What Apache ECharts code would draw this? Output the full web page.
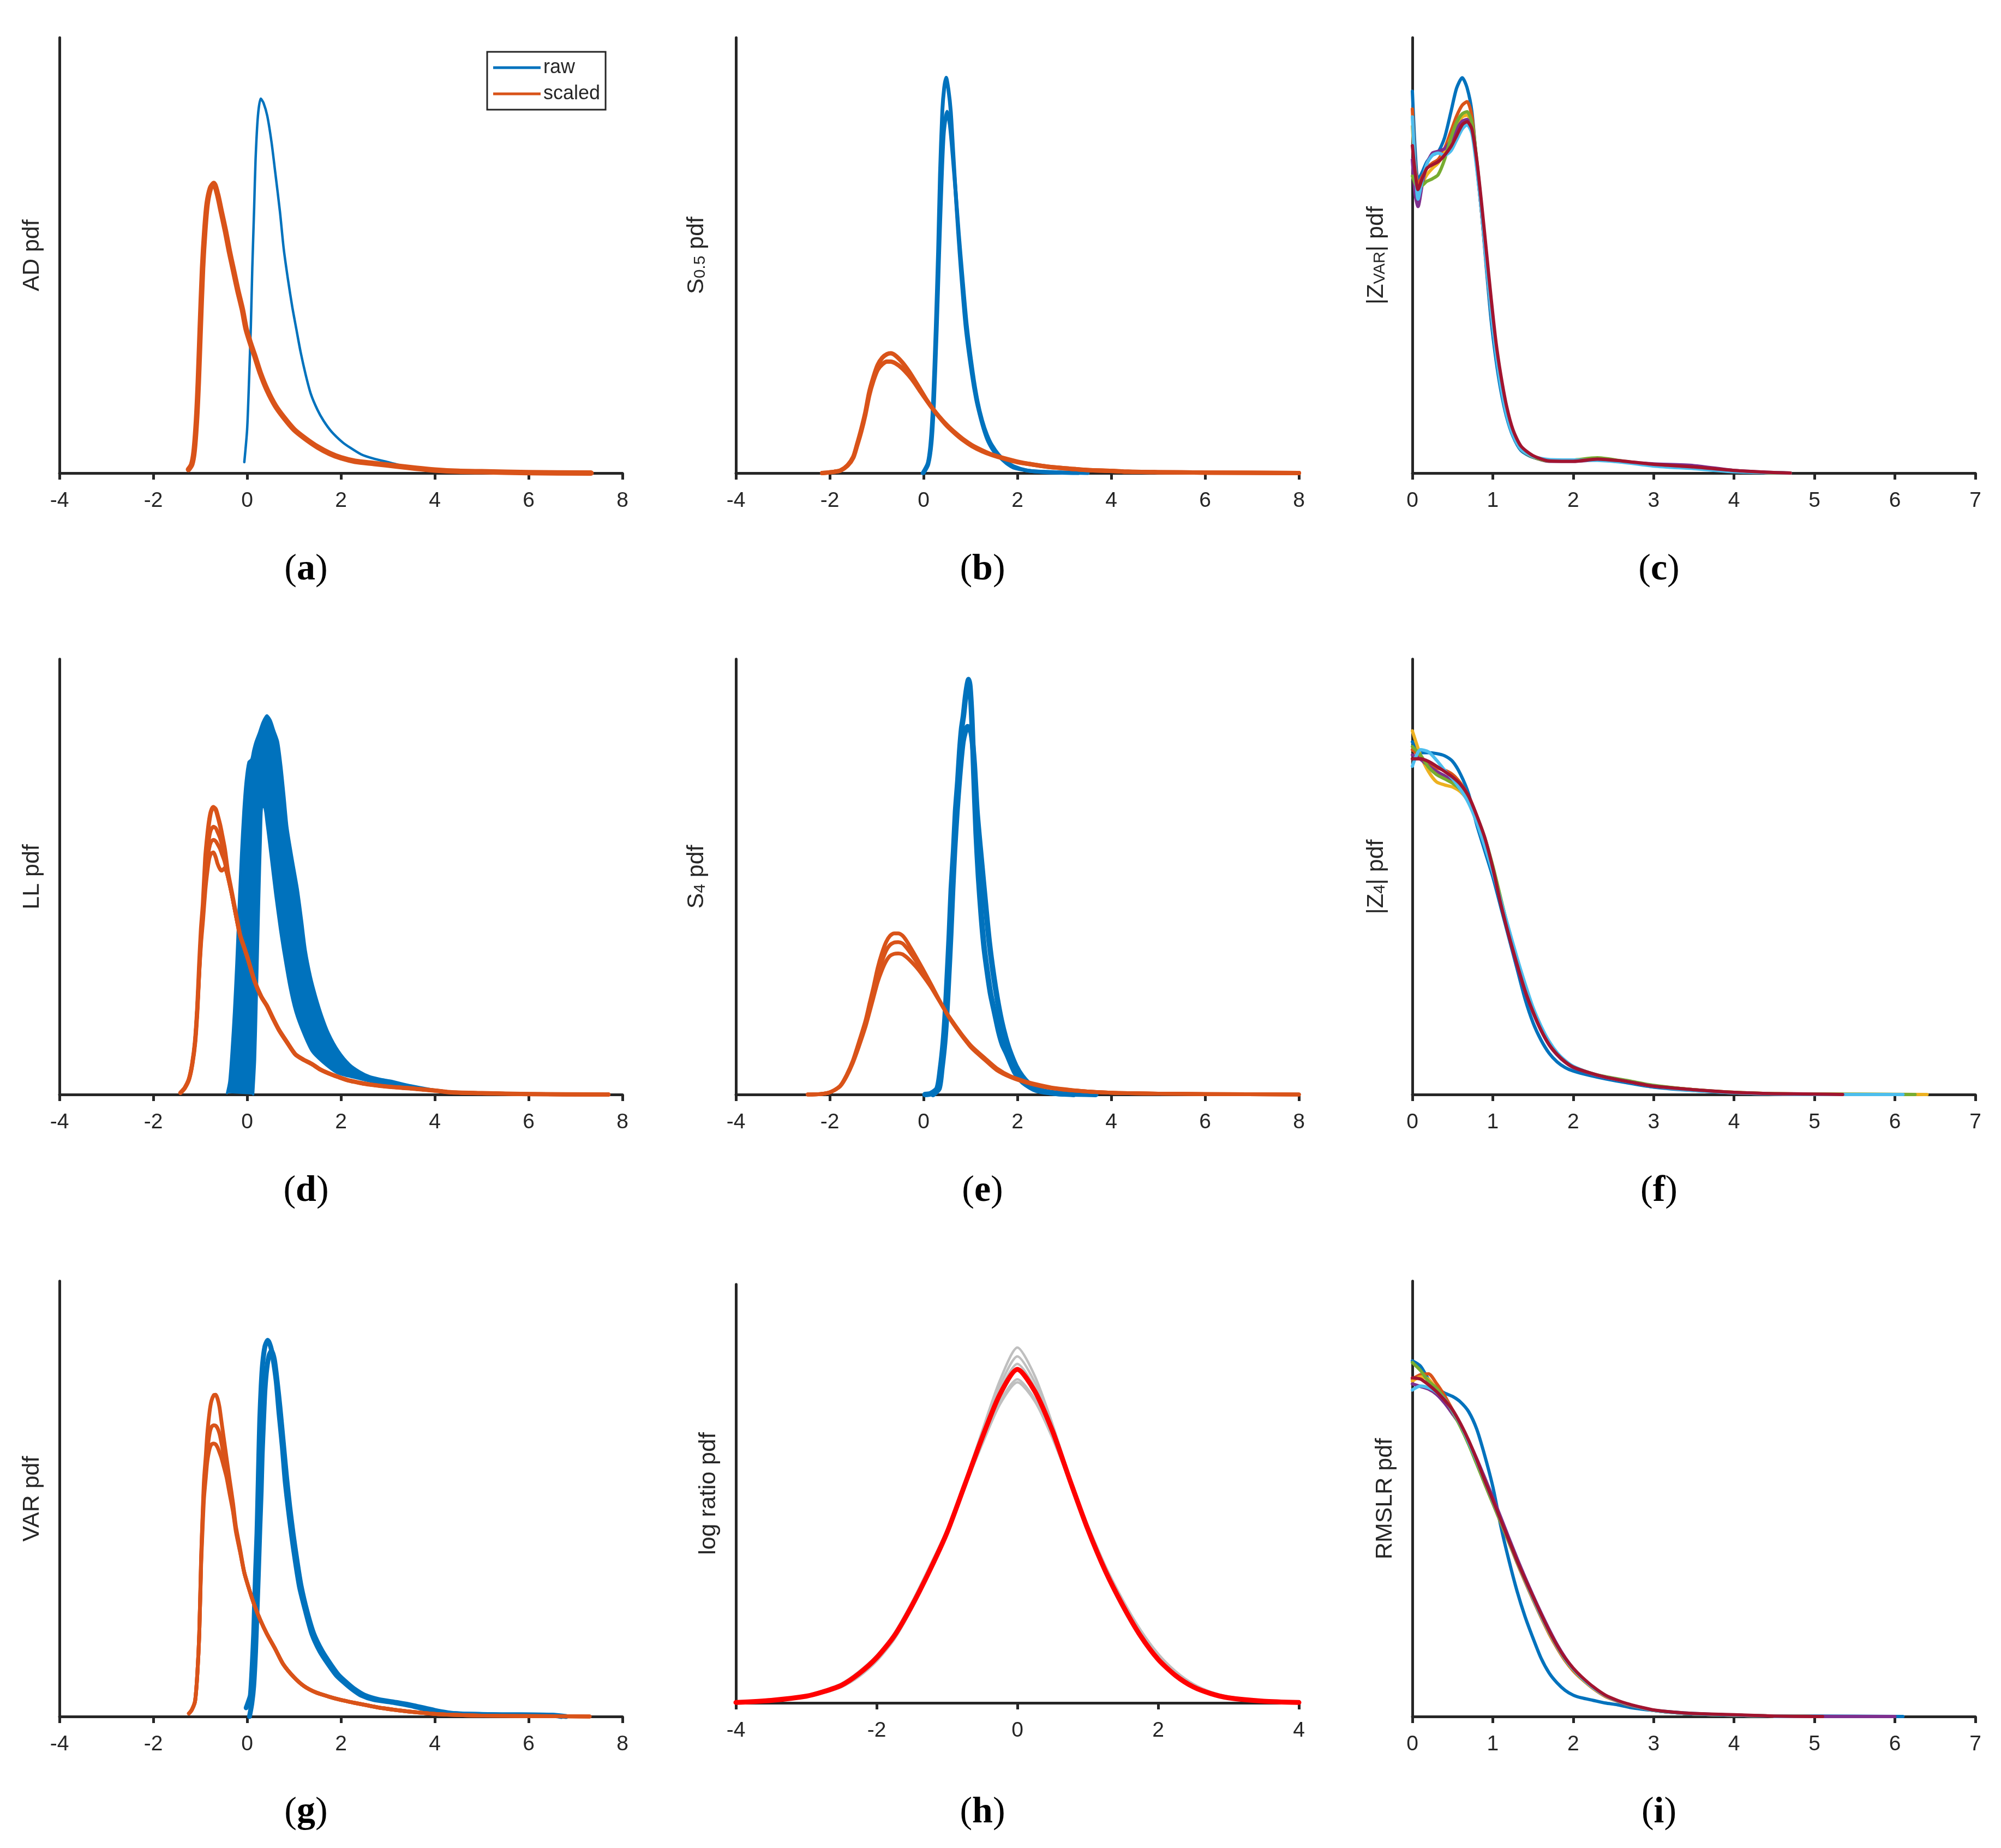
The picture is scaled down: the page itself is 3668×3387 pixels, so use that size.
<!DOCTYPE html>
<html><head><meta charset="utf-8">
<script src="https://cdn.jsdelivr.net/npm/echarts@6/dist/echarts.min.js"></script>
<style>html,body{margin:0;padding:0;background:#fff}#c{width:3668px;height:3387px}</style>
</head><body><div id="c"></div>
<script>
// ---------- tick / axis definitions ----------
var xRangeWide = [-4, 8];
var xRangeAbs = [0, 7];
var xRangeH = [-4, 4];
var yNames = ['AD pdf', '{m|S}{s|0.5}{m| pdf}', '{m||Z}{s|VAR}{m|| pdf}', 'LL pdf', '{m|S}{s|4}{m| pdf}', '{m||Z}{s|4}{m|| pdf}', 'VAR pdf', 'log ratio pdf', 'RMSLR pdf'];
var panelLetters = ['a', 'b', 'c', 'd', 'e', 'f', 'g', 'h', 'i'];
var legendNames = ['raw', 'scaled'];

// ---------- (a) AD ----------
var aRawX = [-0.06,0.0,0.04,0.08,0.11,0.15,0.18,0.23,0.29,0.35,0.43,0.52,0.6,0.7,0.78,0.87,0.96,1.05,1.14,1.25,1.36,1.5,1.63,1.8,2.03,2.2,2.43,2.7,3.0,3.3,3.54,3.8,4.0,4.5,5.0,5.4];
var aRawY = [0.025,0.1,0.21,0.34,0.47,0.61,0.72,0.82,0.86,0.85,0.82,0.76,0.69,0.6,0.515,0.445,0.383,0.33,0.278,0.225,0.181,0.145,0.12,0.095,0.071,0.058,0.043,0.033,0.025,0.017,0.012,0.008,0.005,0.002,0.001,0];
var aScX = [-1.25,-1.18,-1.13,-1.08,-1.04,-1.0,-0.95,-0.9,-0.85,-0.78,-0.71,-0.63,-0.55,-0.46,-0.38,-0.29,-0.2,-0.1,-0.02,0.08,0.16,0.28,0.43,0.6,0.78,1.0,1.23,1.5,1.76,2.0,2.3,2.7,3.19,3.6,4.0,4.5,5.0,6.0,7.33];
var aScY = [0.008,0.02,0.05,0.12,0.21,0.33,0.47,0.56,0.62,0.655,0.665,0.64,0.6,0.555,0.51,0.465,0.42,0.375,0.33,0.295,0.27,0.23,0.19,0.155,0.128,0.1,0.08,0.06,0.045,0.035,0.027,0.022,0.016,0.011,0.007,0.004,0.003,0.001,0];

// ---------- (b) S0.5 ----------
var bRaw1X = [-0.02,0.09,0.15,0.2,0.26,0.31,0.35,0.4,0.44,0.48,0.53,0.58,0.63,0.68,0.74,0.8,0.9,1.03,1.12,1.21,1.3,1.38,1.5,1.65,1.8,1.91,2.1,2.35,2.8,3.5];
var bRaw1Y = [0.0,0.023,0.07,0.157,0.333,0.509,0.685,0.833,0.885,0.908,0.88,0.83,0.74,0.65,0.55,0.46,0.333,0.227,0.17,0.129,0.095,0.072,0.05,0.034,0.02,0.013,0.008,0.004,0.002,0.0];
var bRaw2X = [0.0,0.1,0.17,0.22,0.28,0.33,0.38,0.43,0.5,0.56,0.62,0.68,0.75,0.82,0.92,1.05,1.15,1.25,1.35,1.45,1.6,1.75,1.95,2.2,2.6,3.3];
var bRaw2Y = [0.0,0.02,0.07,0.16,0.33,0.5,0.66,0.78,0.83,0.8,0.73,0.65,0.55,0.46,0.34,0.23,0.165,0.12,0.088,0.065,0.042,0.027,0.014,0.006,0.002,0.0];
var bScX = [-2.16,-1.9,-1.77,-1.62,-1.5,-1.42,-1.33,-1.24,-1.16,-1.07,-0.98,-0.88,-0.78,-0.7,-0.6,-0.46,-0.32,-0.19,-0.06,0.07,0.2,0.33,0.5,0.68,0.85,1.03,1.25,1.47,1.75,2.0,2.3,2.61,3.0,3.49,4.0,4.36,5.0,6.0,8.0];
var bSc1Y = [0.0,0.003,0.006,0.018,0.037,0.065,0.1,0.14,0.185,0.22,0.248,0.265,0.273,0.275,0.27,0.255,0.235,0.213,0.19,0.167,0.147,0.129,0.108,0.09,0.075,0.062,0.05,0.041,0.032,0.025,0.02,0.015,0.011,0.007,0.005,0.003,0.002,0.001,0.0];
var bSc2Y = [0.0,0.003,0.006,0.017,0.035,0.062,0.095,0.135,0.178,0.212,0.237,0.25,0.256,0.256,0.252,0.241,0.225,0.207,0.186,0.166,0.147,0.13,0.11,0.092,0.077,0.064,0.052,0.042,0.033,0.026,0.02,0.015,0.011,0.007,0.005,0.003,0.002,0.001,0.0];

// ---------- (c) |Z_VAR| ----------
var cX = [0,0.035,0.07,0.12,0.18,0.25,0.32,0.4,0.48,0.55,0.62,0.68,0.74,0.8,0.86,0.92,0.98,1.04,1.1,1.17,1.25,1.35,1.5,1.7,2.0,2.3,2.6,3.0,3.5,4.0,4.4,4.7];
var cBlue   = [0.877,0.74,0.673,0.69,0.715,0.73,0.737,0.77,0.83,0.884,0.908,0.885,0.83,0.71,0.6,0.47,0.35,0.26,0.19,0.13,0.085,0.052,0.036,0.029,0.029,0.032,0.027,0.019,0.012,0.004,0.001,0];
var cOrange = [0.836,0.71,0.664,0.68,0.7,0.712,0.72,0.745,0.785,0.82,0.845,0.853,0.82,0.71,0.6,0.48,0.37,0.28,0.205,0.14,0.09,0.055,0.037,0.028,0.028,0.033,0.027,0.019,0.012,0.005,0.001,0];
var cYellow = [0.796,0.7,0.65,0.665,0.685,0.7,0.712,0.735,0.77,0.8,0.818,0.822,0.8,0.71,0.6,0.48,0.37,0.28,0.205,0.14,0.09,0.055,0.037,0.028,0.029,0.033,0.027,0.019,0.012,0.005,0.001,0];
var cPurple = [0.72,0.64,0.612,0.66,0.71,0.735,0.739,0.745,0.765,0.79,0.808,0.812,0.79,0.705,0.6,0.48,0.37,0.28,0.205,0.14,0.09,0.055,0.037,0.027,0.027,0.03,0.026,0.021,0.017,0.006,0.002,0];
var cGreen  = [0.682,0.665,0.655,0.66,0.67,0.676,0.685,0.72,0.77,0.805,0.825,0.83,0.805,0.72,0.61,0.49,0.38,0.285,0.21,0.14,0.09,0.055,0.037,0.028,0.03,0.035,0.028,0.019,0.012,0.005,0.001,0];
var cLight  = [0.818,0.7,0.629,0.67,0.71,0.73,0.735,0.73,0.74,0.765,0.79,0.8,0.78,0.7,0.6,0.48,0.37,0.275,0.2,0.135,0.088,0.055,0.038,0.031,0.03,0.029,0.025,0.016,0.01,0.003,0.001,0];
var cRed    = [0.752,0.69,0.651,0.675,0.7,0.708,0.715,0.73,0.75,0.775,0.8,0.807,0.79,0.72,0.62,0.51,0.4,0.3,0.225,0.155,0.1,0.062,0.04,0.028,0.027,0.032,0.028,0.02,0.014,0.006,0.002,0];

// ---------- (d) LL ----------
var dBlueOutX = [-0.43,-0.38,-0.33,-0.28,-0.23,-0.18,-0.13,-0.08,-0.03,0.03,0.09,0.13,0.18,0.25,0.33,0.42,0.5,0.58,0.66,0.73,0.8,0.86,0.97,1.08,1.17,1.25,1.36,1.47,1.6,1.74,1.95,2.18,2.4,2.61,2.83,3.05,3.49,4.01,4.5,5.2,6.3];
var dBlueOutY = [0.003,0.03,0.1,0.19,0.3,0.43,0.55,0.65,0.72,0.764,0.77,0.79,0.81,0.83,0.855,0.871,0.86,0.835,0.81,0.754,0.68,0.613,0.54,0.472,0.4,0.331,0.27,0.225,0.18,0.141,0.1,0.07,0.053,0.042,0.036,0.032,0.021,0.011,0.005,0.002,0.0];
var dBlueInX = [0.13,0.17,0.2,0.23,0.26,0.29,0.32,0.36,0.42,0.5,0.6,0.7,0.77,0.9,1.03,1.2,1.38,1.6,1.91,2.3,2.8,3.5,4.2,5.0];
var dBlueInY = [0.0,0.08,0.2,0.33,0.46,0.58,0.66,0.66,0.62,0.55,0.46,0.38,0.331,0.25,0.19,0.14,0.099,0.075,0.05,0.038,0.026,0.013,0.006,0.002];
var dScX = [-1.42,-1.33,-1.24,-1.17,-1.11,-1.06,-1.02,-0.98,-0.94,-0.89,-0.85,-0.81,-0.77,-0.72,-0.67,-0.63,-0.58,-0.54,-0.48,-0.41,-0.32,-0.24,-0.15,-0.07,0.02,0.16,0.3,0.42,0.55,0.68,0.85,1.03,1.2,1.38,1.55,1.73,1.95,2.17,2.4,2.61,3.0,3.49,4.0,4.36,5.0,6.0,7.7];
var dSc1Y = [0.004,0.015,0.035,0.07,0.12,0.2,0.296,0.38,0.437,0.542,0.59,0.627,0.65,0.66,0.655,0.641,0.62,0.599,0.565,0.51,0.46,0.415,0.366,0.34,0.31,0.26,0.225,0.204,0.175,0.148,0.12,0.092,0.08,0.07,0.058,0.049,0.04,0.032,0.027,0.023,0.018,0.014,0.009,0.005,0.003,0.001,0];
var dSc2Y = [0.004,0.015,0.035,0.07,0.12,0.2,0.29,0.37,0.425,0.51,0.555,0.59,0.608,0.615,0.612,0.603,0.59,0.575,0.55,0.505,0.458,0.413,0.366,0.34,0.31,0.26,0.225,0.204,0.175,0.148,0.12,0.092,0.08,0.07,0.058,0.049,0.04,0.032,0.027,0.023,0.018,0.014,0.009,0.005,0.003,0.001,0];
var dSc3Y = [0.004,0.015,0.035,0.07,0.12,0.2,0.285,0.36,0.415,0.49,0.53,0.565,0.58,0.585,0.582,0.575,0.565,0.553,0.535,0.5,0.456,0.412,0.366,0.34,0.31,0.26,0.225,0.204,0.175,0.148,0.12,0.092,0.08,0.07,0.058,0.049,0.04,0.032,0.027,0.023,0.018,0.014,0.009,0.005,0.003,0.001,0];
var dSc4Y = [0.004,0.015,0.035,0.07,0.12,0.2,0.28,0.35,0.4,0.47,0.51,0.54,0.553,0.556,0.545,0.53,0.518,0.514,0.52,0.5,0.456,0.412,0.366,0.34,0.31,0.26,0.225,0.204,0.175,0.148,0.12,0.092,0.08,0.07,0.058,0.049,0.04,0.032,0.027,0.023,0.018,0.014,0.009,0.005,0.003,0.001,0];

// ---------- (e) S4 ----------
var eRaw1X = [0.03,0.15,0.29,0.36,0.42,0.46,0.5,0.55,0.59,0.64,0.68,0.73,0.77,0.81,0.85,0.89,0.93,0.96,0.99,1.03,1.07,1.12,1.17,1.23,1.29,1.36,1.43,1.51,1.6,1.68,1.77,1.95,2.12,2.4,2.8,3.2];
var eRaw1Y = [0,0.002,0.014,0.06,0.12,0.18,0.26,0.37,0.472,0.56,0.648,0.72,0.789,0.84,0.87,0.91,0.94,0.953,0.935,0.86,0.74,0.6,0.5,0.41,0.338,0.28,0.23,0.19,0.145,0.115,0.094,0.05,0.028,0.01,0.003,0];
var eRaw2X = [0.2,0.33,0.39,0.45,0.49,0.53,0.58,0.62,0.66,0.71,0.76,0.8,0.84,0.88,0.94,0.99,1.03,1.08,1.14,1.23,1.32,1.4,1.49,1.57,1.66,1.75,1.84,1.97,2.1,2.24,2.37,2.57,2.87,3.27,3.67];
var eRaw2Y = [0,0.014,0.06,0.12,0.18,0.26,0.37,0.472,0.56,0.648,0.72,0.77,0.81,0.83,0.845,0.84,0.82,0.76,0.648,0.54,0.437,0.35,0.275,0.22,0.169,0.13,0.099,0.065,0.042,0.025,0.014,0.007,0.002,0.001,0];
var eScX = [-2.47,-2.2,-2.03,-1.9,-1.77,-1.64,-1.51,-1.38,-1.24,-1.15,-1.07,-0.98,-0.89,-0.8,-0.72,-0.63,-0.54,-0.45,-0.37,-0.28,-0.15,-0.02,0.15,0.33,0.5,0.68,0.85,1.03,1.3,1.56,1.85,2.17,2.5,2.78,3.1,3.49,4.0,4.36,5.0,6.0,8.0];
var eSc1Y = [0,0.001,0.004,0.01,0.021,0.045,0.077,0.12,0.169,0.21,0.246,0.29,0.324,0.35,0.364,0.37,0.37,0.365,0.354,0.338,0.314,0.289,0.255,0.218,0.185,0.155,0.13,0.106,0.08,0.056,0.04,0.028,0.019,0.014,0.01,0.007,0.004,0.003,0.002,0.001,0];
var eSc2Y = [0,0.001,0.004,0.01,0.02,0.043,0.074,0.115,0.162,0.2,0.235,0.275,0.305,0.33,0.343,0.349,0.35,0.347,0.338,0.325,0.305,0.283,0.252,0.217,0.185,0.156,0.131,0.108,0.082,0.058,0.041,0.029,0.02,0.014,0.01,0.007,0.004,0.003,0.002,0.001,0];
var eSc3Y = [0,0.001,0.004,0.01,0.02,0.042,0.072,0.11,0.155,0.19,0.222,0.258,0.285,0.306,0.318,0.323,0.324,0.322,0.316,0.307,0.292,0.274,0.248,0.216,0.186,0.158,0.133,0.11,0.084,0.06,0.042,0.03,0.021,0.015,0.011,0.007,0.004,0.003,0.002,0.001,0];

// ---------- (f) |Z_4| ----------
var fX = [0,0.1,0.2,0.3,0.4,0.5,0.6,0.7,0.8,0.9,1.0,1.1,1.2,1.3,1.4,1.5,1.6,1.7,1.8,1.9,2.0,2.2,2.4,2.7,3.0,3.5,4.0,4.5,5.0];
var fBlue   = [0.81,0.785,0.785,0.783,0.778,0.765,0.735,0.69,0.62,0.56,0.5,0.43,0.36,0.29,0.22,0.165,0.125,0.095,0.075,0.062,0.054,0.044,0.036,0.026,0.017,0.009,0.004,0.001,0];
var fOrange = [0.792,0.775,0.76,0.75,0.745,0.735,0.715,0.685,0.64,0.585,0.52,0.445,0.37,0.3,0.24,0.19,0.148,0.115,0.092,0.075,0.063,0.05,0.04,0.03,0.02,0.011,0.004,0.001,0];
var fYellow = [0.835,0.78,0.742,0.718,0.711,0.706,0.695,0.672,0.63,0.58,0.515,0.44,0.37,0.3,0.24,0.19,0.15,0.117,0.093,0.076,0.064,0.05,0.04,0.03,0.02,0.011,0.005,0.002,0.001];
var fPurple = [0.78,0.77,0.755,0.742,0.732,0.72,0.705,0.68,0.635,0.58,0.515,0.44,0.365,0.297,0.237,0.188,0.147,0.114,0.091,0.074,0.062,0.049,0.039,0.029,0.019,0.01,0.004,0.001,0];
var fGreen  = [0.799,0.78,0.752,0.735,0.725,0.715,0.7,0.68,0.64,0.59,0.525,0.45,0.375,0.305,0.245,0.193,0.15,0.117,0.093,0.076,0.064,0.05,0.041,0.031,0.021,0.011,0.005,0.002,0.001];
var fLight  = [0.754,0.792,0.787,0.768,0.745,0.725,0.7,0.669,0.625,0.57,0.51,0.445,0.38,0.315,0.255,0.2,0.157,0.122,0.096,0.078,0.065,0.05,0.04,0.029,0.019,0.009,0.004,0.001,0];
var fRed    = [0.771,0.771,0.765,0.754,0.742,0.729,0.712,0.685,0.641,0.59,0.52,0.437,0.365,0.3,0.239,0.19,0.148,0.115,0.092,0.075,0.063,0.05,0.04,0.029,0.019,0.011,0.005,0.002,0.001];
var fTailEnd = [5.1, 4.6, 6.4, 5.15, 6.25, 6.1, 5.35];

// ---------- (g) VAR ----------
var gRaw1X = [-0.02,0.03,0.07,0.11,0.14,0.16,0.18,0.21,0.23,0.25,0.27,0.3,0.33,0.38,0.44,0.5,0.55,0.62,0.68,0.75,0.81,0.88,0.95,1.03,1.12,1.25,1.38,1.55,1.73,1.9,2.08,2.25,2.43,2.7,3.14,3.49,3.92,4.36,5.24,6.45,6.7];
var gRaw1Y = [0.02,0.035,0.049,0.12,0.19,0.26,0.331,0.42,0.507,0.6,0.683,0.76,0.81,0.85,0.864,0.85,0.824,0.77,0.697,0.62,0.542,0.475,0.415,0.355,0.296,0.24,0.19,0.15,0.12,0.095,0.077,0.062,0.049,0.039,0.032,0.025,0.014,0.007,0.004,0.003,0];
var gRaw2X = [0.05,0.1,0.14,0.18,0.21,0.24,0.27,0.3,0.32,0.35,0.38,0.42,0.47,0.52,0.58,0.64,0.7,0.77,0.84,0.91,0.98,1.06,1.15,1.28,1.42,1.6,1.78,1.95,2.13,2.3,2.5,2.8,3.2,3.55,4.0,4.4,5.3,6.5,6.8];
var gRaw2Y = [0.0,0.03,0.07,0.15,0.24,0.33,0.43,0.52,0.6,0.68,0.75,0.8,0.83,0.84,0.82,0.77,0.71,0.63,0.55,0.48,0.42,0.36,0.3,0.24,0.19,0.15,0.12,0.095,0.077,0.062,0.049,0.039,0.032,0.025,0.014,0.007,0.004,0.003,0];
var gScX = [-1.24,-1.18,-1.11,-1.06,-1.02,-0.98,-0.95,-0.92,-0.88,-0.85,-0.8,-0.76,-0.71,-0.67,-0.63,-0.59,-0.55,-0.5,-0.44,-0.37,-0.3,-0.24,-0.15,-0.06,0.05,0.16,0.28,0.42,0.6,0.77,1.0,1.21,1.45,1.73,2.0,2.26,2.5,2.78,3.1,3.49,4.0,4.36,5.0,6.0,7.3];
var gSc1Y = [0.007,0.015,0.035,0.1,0.19,0.366,0.46,0.542,0.6,0.648,0.7,0.725,0.738,0.739,0.73,0.711,0.68,0.641,0.595,0.542,0.49,0.437,0.385,0.331,0.29,0.254,0.222,0.19,0.155,0.12,0.09,0.07,0.056,0.046,0.038,0.032,0.027,0.021,0.016,0.011,0.006,0.004,0.002,0.001,0];
var gSc2Y = [0.007,0.015,0.035,0.1,0.19,0.36,0.45,0.52,0.57,0.61,0.65,0.665,0.669,0.668,0.662,0.65,0.63,0.6,0.565,0.52,0.475,0.43,0.38,0.33,0.29,0.254,0.222,0.19,0.155,0.12,0.09,0.07,0.056,0.046,0.038,0.032,0.027,0.021,0.016,0.011,0.006,0.004,0.002,0.001,0];
var gSc3Y = [0.007,0.015,0.035,0.1,0.19,0.35,0.43,0.5,0.55,0.585,0.615,0.625,0.627,0.625,0.618,0.607,0.595,0.575,0.55,0.51,0.47,0.425,0.378,0.33,0.29,0.254,0.222,0.19,0.155,0.12,0.09,0.07,0.056,0.046,0.038,0.032,0.027,0.021,0.016,0.011,0.006,0.004,0.002,0.001,0];

// ---------- (h) log ratio ----------
var hX = [-4,-3.5,-3,-2.75,-2.5,-2.25,-2,-1.75,-1.5,-1.25,-1,-0.75,-0.5,-0.25,0,0.25,0.5,0.75,1,1.25,1.5,1.75,2,2.25,2.5,2.75,3,3.5,4];
var hGray1 = [0.001,0.005,0.014,0.024,0.038,0.063,0.1,0.152,0.225,0.31,0.405,0.525,0.65,0.77,0.849,0.78,0.665,0.535,0.415,0.31,0.225,0.155,0.1,0.062,0.036,0.02,0.011,0.004,0.001];
var hGray2 = [0.001,0.006,0.015,0.026,0.04,0.067,0.104,0.156,0.228,0.312,0.406,0.522,0.643,0.757,0.828,0.765,0.66,0.535,0.415,0.312,0.228,0.157,0.102,0.064,0.037,0.021,0.012,0.004,0.001];
var hGray3 = [0.001,0.006,0.016,0.027,0.042,0.069,0.107,0.159,0.231,0.314,0.407,0.52,0.637,0.745,0.81,0.752,0.655,0.533,0.417,0.315,0.232,0.161,0.106,0.067,0.039,0.023,0.013,0.004,0.001];
var hGray4 = [0.002,0.007,0.018,0.03,0.046,0.075,0.113,0.165,0.237,0.32,0.41,0.515,0.622,0.72,0.773,0.725,0.635,0.525,0.42,0.322,0.24,0.17,0.113,0.072,0.043,0.025,0.014,0.005,0.001];
var hGray5 = [0.002,0.007,0.017,0.029,0.045,0.073,0.112,0.166,0.24,0.325,0.413,0.515,0.618,0.713,0.766,0.72,0.632,0.526,0.424,0.327,0.245,0.174,0.117,0.075,0.045,0.026,0.015,0.005,0.001];
var hRed = [0.001,0.006,0.016,0.027,0.042,0.07,0.108,0.16,0.232,0.315,0.407,0.52,0.634,0.737,0.797,0.744,0.649,0.53,0.415,0.315,0.232,0.16,0.104,0.065,0.038,0.022,0.012,0.004,0.001];

// ---------- (i) RMSLR ----------
var iX = [0,0.1,0.2,0.3,0.4,0.5,0.6,0.7,0.8,0.9,1.0,1.1,1.2,1.3,1.4,1.5,1.6,1.7,1.8,1.9,2.0,2.1,2.25,2.4,2.55,2.7,2.85,3.0,3.25,3.5,4.0,4.5,5.0];
var iBlue   = [0.817,0.805,0.775,0.754,0.743,0.735,0.722,0.7,0.66,0.599,0.528,0.437,0.359,0.289,0.23,0.18,0.134,0.1,0.077,0.06,0.049,0.043,0.037,0.031,0.027,0.021,0.017,0.014,0.01,0.007,0.003,0.001,0.001];
var iOrange = [0.775,0.785,0.787,0.765,0.737,0.704,0.67,0.628,0.582,0.535,0.49,0.445,0.4,0.354,0.31,0.268,0.228,0.19,0.157,0.128,0.105,0.087,0.064,0.046,0.035,0.026,0.02,0.014,0.009,0.006,0.003,0.001,0];
var iYellow = [0.77,0.78,0.775,0.752,0.728,0.7,0.668,0.628,0.583,0.537,0.492,0.447,0.402,0.356,0.312,0.27,0.23,0.192,0.159,0.13,0.107,0.088,0.065,0.047,0.036,0.027,0.02,0.014,0.009,0.006,0.003,0.001,0];
var iPurple = [0.764,0.758,0.752,0.74,0.72,0.695,0.668,0.632,0.592,0.548,0.503,0.457,0.41,0.364,0.32,0.278,0.238,0.2,0.165,0.135,0.11,0.09,0.067,0.048,0.036,0.027,0.02,0.014,0.009,0.006,0.003,0.001,0];
var iGreen  = [0.813,0.795,0.77,0.754,0.73,0.7,0.665,0.625,0.58,0.535,0.49,0.446,0.401,0.356,0.313,0.271,0.231,0.194,0.16,0.131,0.108,0.089,0.066,0.048,0.036,0.027,0.02,0.014,0.009,0.006,0.003,0.001,0];
var iLight  = [0.75,0.759,0.755,0.745,0.728,0.702,0.67,0.63,0.587,0.541,0.495,0.45,0.404,0.358,0.314,0.272,0.232,0.195,0.161,0.132,0.109,0.09,0.066,0.048,0.036,0.027,0.02,0.014,0.009,0.006,0.003,0.001,0];
var iRed    = [0.778,0.775,0.762,0.746,0.727,0.704,0.672,0.634,0.59,0.542,0.497,0.451,0.405,0.359,0.316,0.275,0.235,0.197,0.163,0.134,0.111,0.092,0.068,0.049,0.037,0.028,0.021,0.015,0.01,0.007,0.004,0.001,0];
var iTailEnd = [6.1, 4.5, 4.6, 6.0, 4.6, 4.5, 5.1];

(function () {
  var C = {blue:'#0072BD', orange:'#D95319', yellow:'#EDB120', purple:'#7E2F8E', green:'#77AC30', light:'#4DBEEE', red:'#A2142F', gray:'#BFBFBF', pure:'#FF0000'};
  var AX = '#262626';
  var FONT = '"Liberation Sans", Arial, Helvetica, sans-serif';
  var SERIF = '"Liberation Serif", "DejaVu Serif", serif';
  var colLeft = [109, 1349, 2589];
  var rowTop = [69, 1208, 2348];
  var PW = 1032, PH = 798;
  var uid = 0;

  function L(gi, xs, ys, color, width, name, endX) {
    var d = xs.map(function (x, i) { return [x, ys[i]]; });
    if (endX !== undefined) d.push([endX, 0]);
    return {type:'line', name: name || ('s' + (uid++)), xAxisIndex: gi, yAxisIndex: gi, data: d,
      symbol:'none', smooth: 0.25, clip: false, silent: true,
      lineStyle: {color: color, width: width, cap:'round', join:'round'}, itemStyle: {color: color}};
  }
  function band(gi, ux, uy, lx, ly, color) {
    return {type:'custom', xAxisIndex: gi, yAxisIndex: gi, data: [[0, 0]], clip: false, silent: true,
      renderItem: function (params, api) {
        var pts = [];
        for (var i = 0; i < ux.length; i++) pts.push(api.coord([ux[i], uy[i]]));
        for (var j = lx.length - 1; j >= 0; j--) pts.push(api.coord([lx[j], ly[j]]));
        return {type:'polygon', shape: {points: pts}, style: {fill: color}};
      }};
  }

  var grids = [], xAxes = [], yAxes = [], graphics = [];
  var ranges = [xRangeWide, xRangeWide, xRangeAbs, xRangeWide, xRangeWide, xRangeAbs, xRangeWide, xRangeH, xRangeAbs];
  var gaps = [28, 50, 44, 28, 50, 44, 28, 28, 28];
  for (var k = 0; k < 9; k++) {
    var row = Math.floor(k / 3), col = k % 3;
    var gTop = rowTop[row], gH = PH;
    if (k === 7) { gTop = 2354; gH = 767; }
    grids.push({left: colLeft[col], top: gTop, width: PW, height: gH});
    var rg = ranges[k];
    xAxes.push({type:'value', gridIndex: k, min: rg[0], max: rg[1], interval: (rg[0] === 0 ? 1 : 2),
      axisLine: {show: true, onZero: false, lineStyle: {color: AX, width: 5}},
      axisTick: {show: true, inside: false, length: 12, lineStyle: {color: AX, width: 5}},
      axisLabel: {show: true, color: AX, fontSize: 39, fontFamily: FONT, margin: 32},
      splitLine: {show: false}});
    yAxes.push({type:'value', gridIndex: k, min: 0, max: 1,
      axisLine: {show: true, onZero: false, lineStyle: {color: AX, width: 5}},
      axisTick: {show: false}, axisLabel: {show: false}, splitLine: {show: false},
      name: yNames[k], nameLocation: 'middle', nameGap: gaps[k],
      nameTextStyle: {color: AX, fontSize: 43, fontFamily: FONT,
        rich: {m: {fontSize: 43, fontFamily: FONT, color: AX, lineHeight: 43, verticalAlign: 'bottom'},
               s: {fontSize: 30, fontFamily: FONT, color: AX, lineHeight: 6, verticalAlign: 'bottom'}}}});
    graphics.push({type:'text', x: colLeft[col] + 452, y: 1044 + row * 1139,
      style: {text: '{p|(}{b|' + panelLetters[k] + '}{p|)}', align: 'center', verticalAlign: 'middle',
        rich: {p: {fontSize: 68, fontFamily: SERIF, fill: '#000'},
               b: {fontSize: 68, fontWeight: 'bold', fontFamily: SERIF, fill: '#000'}}}});
  }

  var series = [];
  series.push(L(0, aRawX, aRawY, C.blue, 4.5, 'raw'));
  series.push(L(0, aScX, aScY, C.orange, 10, 'scaled'));
  series.push(L(1, bRaw1X, bRaw1Y, C.blue, 7));
  series.push(L(1, bRaw2X, bRaw2Y, C.blue, 7));
  series.push(L(1, bScX, bSc1Y, C.orange, 8));
  series.push(L(1, bScX, bSc2Y, C.orange, 8));
  [[cBlue, C.blue], [cOrange, C.orange], [cYellow, C.yellow], [cPurple, C.purple], [cGreen, C.green], [cLight, C.light], [cRed, C.red]].forEach(function (p) {
    series.push(L(2, cX, p[0], p[1], 6));
  });
  series.push(band(3, dBlueOutX, dBlueOutY, dBlueInX, dBlueInY, C.blue));
  series.push(L(3, dBlueOutX, dBlueOutY, C.blue, 4));
  series.push(L(3, dBlueInX, dBlueInY, C.blue, 4));
  series.push(L(3, dScX, dSc1Y, C.orange, 8));
  series.push(L(3, dScX, dSc2Y, C.orange, 7));
  series.push(L(3, dScX, dSc3Y, C.orange, 7));
  series.push(L(3, dScX, dSc4Y, C.orange, 7));
  series.push(L(4, eRaw1X, eRaw1Y, C.blue, 10));
  series.push(L(4, eRaw2X, eRaw2Y, C.blue, 10));
  series.push(L(4, eScX, eSc1Y, C.orange, 7));
  series.push(L(4, eScX, eSc2Y, C.orange, 7));
  series.push(L(4, eScX, eSc3Y, C.orange, 7));
  [[fBlue, C.blue], [fOrange, C.orange], [fYellow, C.yellow], [fPurple, C.purple], [fGreen, C.green], [fLight, C.light], [fRed, C.red]].forEach(function (p, idx) {
    series.push(L(5, fX, p[0], p[1], 6, null, fTailEnd[idx]));
  });
  series.push(L(6, gRaw1X, gRaw1Y, C.blue, 9));
  series.push(L(6, gRaw2X, gRaw2Y, C.blue, 9));
  series.push(L(6, gScX, gSc1Y, C.orange, 7));
  series.push(L(6, gScX, gSc2Y, C.orange, 7));
  series.push(L(6, gScX, gSc3Y, C.orange, 7));
  [hGray1, hGray2, hGray3, hGray4, hGray5].forEach(function (g) { series.push(L(7, hX, g, C.gray, 4.5)); });
  series.push(L(7, hX, hRed, C.pure, 9));
  [[iBlue, C.blue], [iOrange, C.orange], [iYellow, C.yellow], [iPurple, C.purple], [iGreen, C.green], [iLight, C.light], [iRed, C.red]].forEach(function (p, idx) {
    series.push(L(8, iX, p[0], p[1], 6, null, iTailEnd[idx]));
  });

  var chart = echarts.init(document.getElementById('c'), null, {renderer: 'canvas', width: 3668, height: 3387});
  chart.setOption({
    animation: false,
    backgroundColor: '#ffffff',
    grid: grids, xAxis: xAxes, yAxis: yAxes, series: series, graphic: graphics,
    legend: {data: legendNames, orient: 'vertical', left: 893, top: 95, padding: [11, 10, 11, 11],
      icon: 'rect', itemWidth: 87, itemHeight: 5, itemGap: 12, selectedMode: false,
      textStyle: {fontSize: 36, color: AX, fontFamily: FONT, lineHeight: 36},
      borderColor: AX, borderWidth: 3, backgroundColor: '#fff'}
  });
})();
</script></body></html>
